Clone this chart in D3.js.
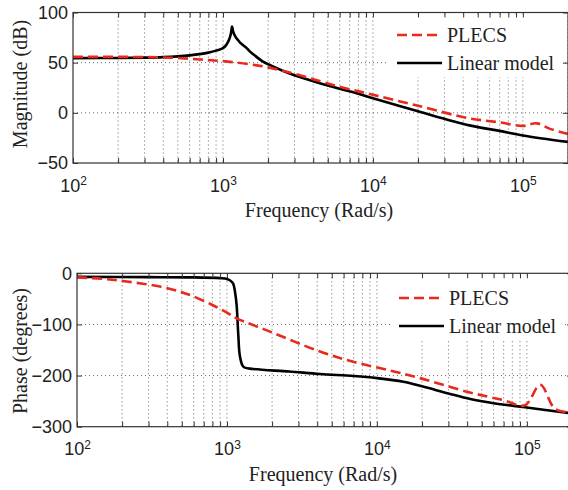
<!DOCTYPE html>
<html>
<head>
<meta charset="utf-8">
<script src="https://cdn.jsdelivr.net/npm/d3@7"></script>
<style>
  body { margin: 0; background: #fff; }
  svg { display: block; }
</style>
</head>
<body>
<div id="chart"></div>
<script>
// Bode plot: PLECS vs linear model

const width = 568, height = 490;

// --- data ---
const magLinearFreq = [100, 200, 300, 400, 500, 600, 700, 800, 900, 1000, 1050, 1100, 1130, 1150, 1170, 1200, 1250, 1300, 1440, 1515, 1650, 1850, 2100, 2500, 3000, 4000, 6000, 8000, 10000, 20000, 44000, 70000, 100000, 200000];
const magLinear     = [54.5, 54.7, 55, 55.5, 56.3, 57.3, 58.5, 60, 62, 64.5, 67.5, 73, 79, 86, 81, 77, 73, 70, 64.5, 61, 56.5, 51, 47, 42, 37.5, 31.5, 24, 19, 14.5, 1.5, -12.5, -18, -22.5, -29];

const magPlecsFreq = [100, 200, 300, 400, 500, 700, 1000, 1500, 2000, 2500, 3000, 4000, 6000, 10000, 20000, 44000, 70000, 100000, 124000, 152000, 200000];
const magPlecs     = [55.8, 55.8, 55.6, 55.2, 54.6, 53.2, 51.5, 48.5, 45.3, 42, 39, 33.5, 26, 18, 7, -5.5, -9.5, -13, -10.5, -16, -21];

const phLinearFreq = [100, 300, 600, 900, 1000, 1050, 1100, 1130, 1160, 1190, 1222, 1290, 1500, 2600, 4170, 7000, 10000, 15000, 20000, 30000, 42000, 60000, 97000, 200000];
const phLinear     = [-7, -7.5, -8, -9.5, -11, -14, -20, -35, -62, -120, -163, -183, -187, -192, -197, -201, -205, -212, -221, -235, -246, -254, -262, -274];

const phPlecsFreq = [100, 150, 214, 357, 500, 596, 800, 1000, 1160, 1935, 4170, 6950, 12200, 19400, 41700, 69500, 97000, 123000, 154000, 200000];
const phPlecs     = [-8, -11, -16, -26, -37, -45, -62, -77, -88, -114, -153, -173, -190, -205, -233, -248, -258, -218, -265, -272];

const seriesNames = ["PLECS", "Linear model"];
const xMajor = [1e2, 1e3, 1e4, 1e5];
const magTicks = [100, 50, 0, -50];
const phaseTicks = [0, -100, -200, -300];

// minor log ticks 2..9 per decade, up to 2e5
let xAll = [];
xMajor.forEach(m => { for (let k = 1; k <= 9; k++) if (m * k <= 2e5) xAll.push(m * k); });

const red = "#e8291c";

const svg = d3.select("#chart").append("svg")
  .attr("width", width)
  .attr("height", height);

function drawPanel(p) {
  const x = d3.scaleLog().domain([100, 2e5]).range([p.left, p.right]);
  const y = d3.scaleLinear().domain(p.yDomain).range([p.bottom, p.top]);
  const g = svg.append("g");

  const clipId = "clip" + p.id;
  svg.append("clipPath").attr("id", clipId)
    .append("rect")
      .attr("x", p.left).attr("y", p.top)
      .attr("width", p.right - p.left).attr("height", p.bottom - p.top);

  // dotted grid
  g.append("g").selectAll("line").data(xAll.filter(d => d > 100)).join("line")
      .attr("x1", d => x(d)).attr("x2", d => x(d))
      .attr("y1", p.top).attr("y2", p.bottom)
      .attr("stroke", "#666").attr("stroke-width", 1)
      .attr("stroke-dasharray", "1,3");
  g.append("g").selectAll("line").data(p.yTicks.slice(1, -1)).join("line")
      .attr("x1", p.left).attr("x2", p.right)
      .attr("y1", d => y(d)).attr("y2", d => y(d))
      .attr("stroke", "#666").attr("stroke-width", 1)
      .attr("stroke-dasharray", "1,3");

  // legend background hides the grid
  g.append("rect")
    .attr("x", p.legend.x0).attr("y", p.legend.y0)
    .attr("width", p.legend.x1 - p.legend.x0).attr("height", p.legend.y1 - p.legend.y0)
    .attr("fill", "#fff");

  // curves
  const line = d3.line()
    .x(d => x(d[0])).y(d => y(d[1]))
    .curve(d3.curveCatmullRom.alpha(0.5));
  const curves = g.append("g").attr("clip-path", `url(#${clipId})`);
  curves.append("path")
    .datum(d3.zip(p.linFreq, p.linVal))
    .attr("d", line)
    .attr("fill", "none").attr("stroke", "#000").attr("stroke-width", 2.6);
  curves.append("path")
    .datum(d3.zip(p.plFreq, p.plVal))
    .attr("d", line)
    .attr("fill", "none").attr("stroke", red).attr("stroke-width", 2.6)
    .attr("stroke-dasharray", "10,5");

  // axes (ticks point inward)
  const xb = g.append("g")
    .attr("transform", `translate(0,${p.bottom})`)
    .call(d3.axisBottom(x).tickValues(xAll).tickSizeInner(-5).tickSizeOuter(0).tickPadding(16)
      .tickFormat(d => xMajor.includes(d) ? "10" : ""));
  xb.selectAll(".tick text").each(function(d) {
    if (!xMajor.includes(d)) return;
    d3.select(this).append("tspan")
      .attr("dy", "-0.55em").attr("font-size", "12px")
      .text(Math.round(Math.log10(d)));
  });
  g.append("g")
    .attr("transform", `translate(0,${p.top})`)
    .call(d3.axisTop(x).tickValues(xAll).tickSizeInner(-5).tickSizeOuter(0).tickFormat(""));
  g.append("g")
    .attr("transform", `translate(${p.left},0)`)
    .call(d3.axisLeft(y).tickValues(p.yTicks).tickSizeInner(-5).tickSizeOuter(0).tickPadding(5));
  g.append("g")
    .attr("transform", `translate(${p.right},0)`)
    .call(d3.axisRight(y).tickValues(p.yTicks).tickSizeInner(-5).tickSizeOuter(0).tickFormat(""));

  g.selectAll(".domain").remove();
  g.selectAll(".tick line").attr("stroke", "#333");
  g.selectAll(".tick text")
    .attr("font-family", "'Liberation Sans', Arial, sans-serif")
    .attr("font-size", "18px").attr("fill", "#222");

  // box
  g.append("rect")
    .attr("x", p.left).attr("y", p.top)
    .attr("width", p.right - p.left).attr("height", p.bottom - p.top)
    .attr("fill", "none").attr("stroke", "#333").attr("stroke-width", 1.2);

  // axis titles
  g.append("text")
    .attr("x", p.xTitle[0]).attr("y", p.xTitle[1])
    .attr("text-anchor", "middle")
    .attr("font-family", "'Liberation Serif', 'Times New Roman', serif")
    .attr("font-size", "20px").attr("fill", "#222")
    .text("Frequency (Rad/s)");
  g.append("text")
    .attr("transform", `translate(${p.yTitle[0]},${p.yTitle[1]}) rotate(-90)`)
    .attr("text-anchor", "middle")
    .attr("font-family", "'Liberation Serif', 'Times New Roman', serif")
    .attr("font-size", "20px").attr("fill", "#222")
    .text(p.yLabel);

  // legend entries
  const lg = g.append("g")
    .attr("font-family", "'Liberation Serif', 'Times New Roman', serif")
    .attr("font-size", "20px").attr("fill", "#222");
  seriesNames.forEach((name, i) => {
    const ly = p.legend.rows[i];
    lg.append("line")
      .attr("x1", p.legend.lx0).attr("x2", p.legend.lx1)
      .attr("y1", ly).attr("y2", ly)
      .attr("stroke", i === 0 ? red : "#000").attr("stroke-width", 2.6)
      .attr("stroke-dasharray", i === 0 ? "10,5" : null);
    lg.append("text")
      .attr("x", p.legend.tx).attr("y", ly).attr("dy", "0.33em")
      .text(name);
  });
}

drawPanel({
  id: "mag", left: 73, right: 568, top: 12.5, bottom: 163,
  yDomain: [-50, 100], yTicks: magTicks,
  linFreq: magLinearFreq, linVal: magLinear,
  plFreq: magPlecsFreq, plVal: magPlecs,
  xTitle: [319, 217], yTitle: [27, 84], yLabel: "Magnitude (dB)",
  legend: { x0: 386, x1: 564, y0: 14, y1: 77, rows: [35, 63], lx0: 397, lx1: 442, tx: 447 }
});

drawPanel({
  id: "phase", left: 77, right: 572, top: 273.3, bottom: 426.7,
  yDomain: [-300, 0], yTicks: phaseTicks,
  linFreq: phLinearFreq, linVal: phLinear,
  plFreq: phPlecsFreq, plVal: phPlecs,
  xTitle: [323, 481], yTitle: [27, 351], yLabel: "Phase (degrees)",
  legend: { x0: 391, x1: 564, y0: 275, y1: 341, rows: [298, 326], lx0: 399, lx1: 444, tx: 449 }
});
</script>
</body>
</html>
